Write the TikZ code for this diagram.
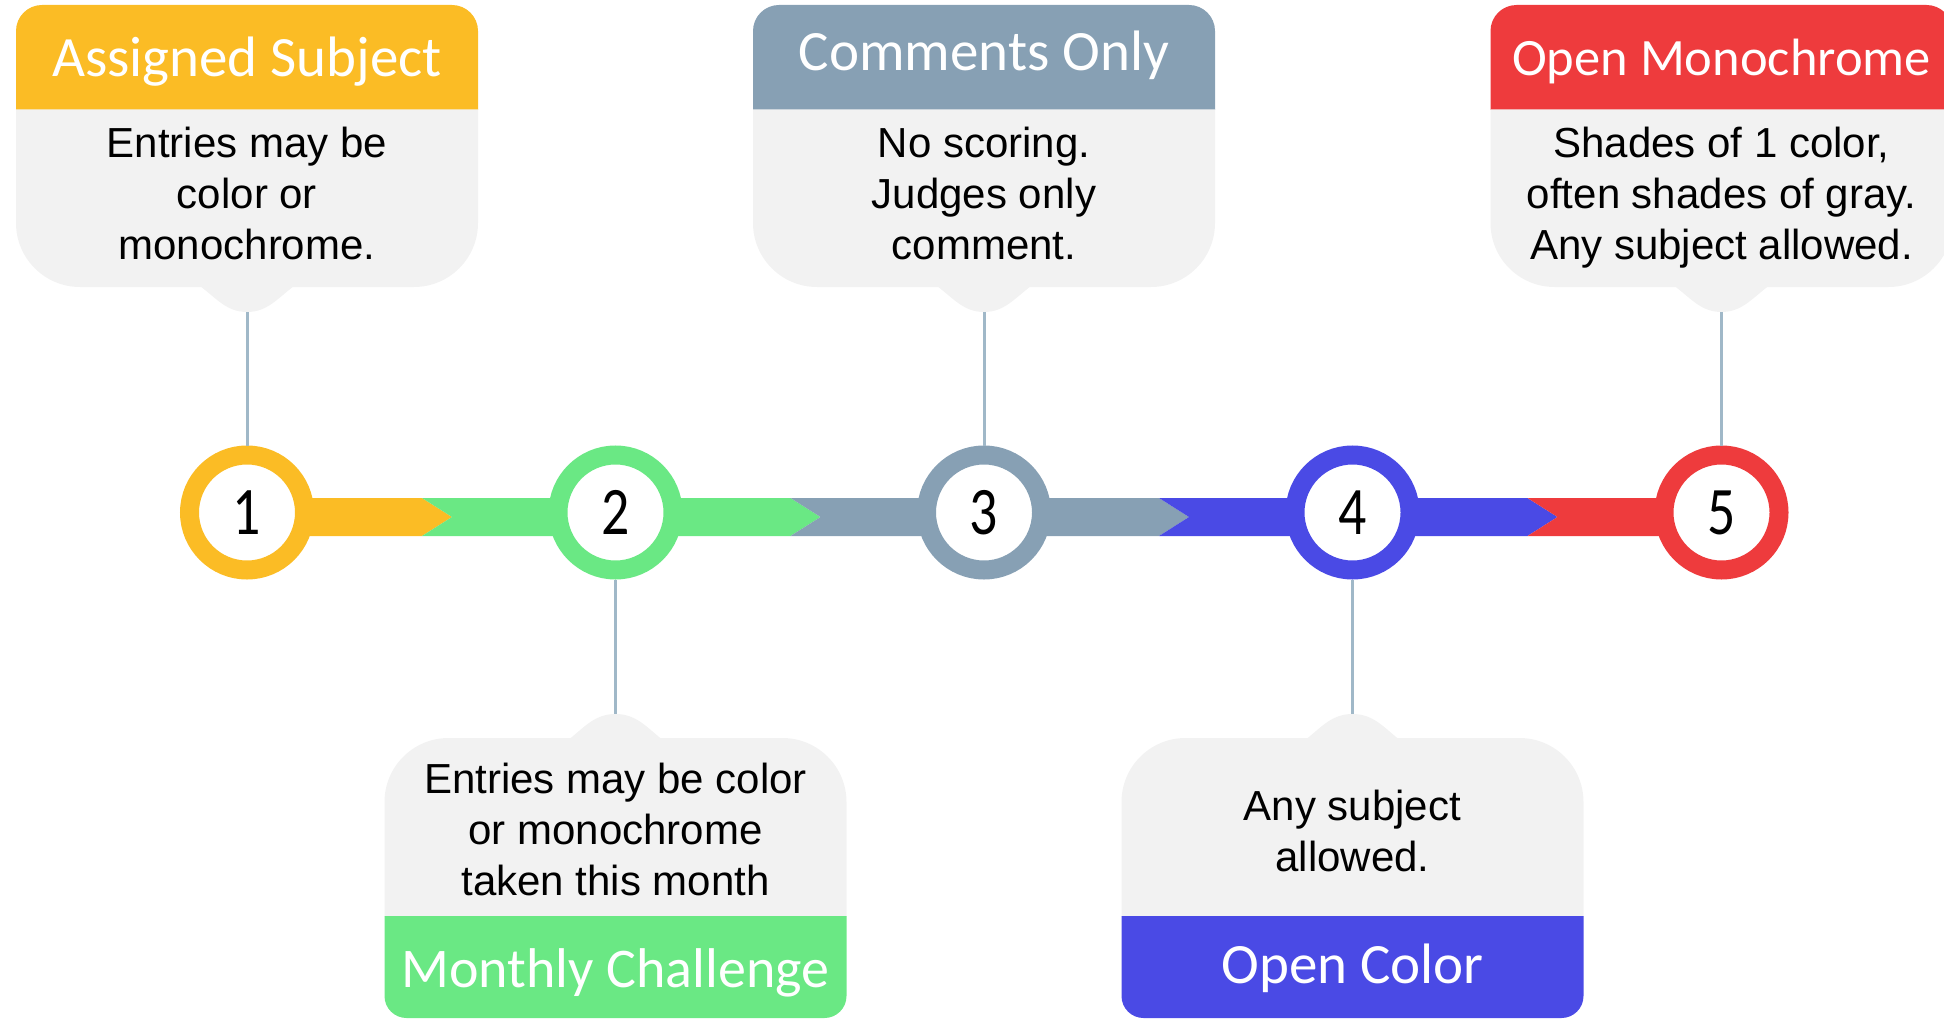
\documentclass[tikz,border=0pt]{standalone}
\usepackage{fontspec}
\usepackage{graphicx}
\setmainfont{Liberation Sans}
\newfontfamily\hdrfont{Carlito}
\newfontfamily\bodyfont{Liberation Sans}
\definecolor{cyel}{HTML}{FBBC25}
\definecolor{cgrn}{HTML}{6AE884}
\definecolor{cgry}{HTML}{87A0B4}
\definecolor{cblu}{HTML}{4A4AE5}
\definecolor{cred}{HTML}{EE3B3D}
\definecolor{bodyc}{HTML}{F2F2F2}
\definecolor{connc}{HTML}{A0B8C8}

% top callout: #1 cx, #2 colour
\newcommand{\TopBox}[2]{%
  \fill[#2] ({#1-231},110) [rounded corners=26]-- ({#1-231},5) -- ({#1+231},5) [sharp corners]-- ({#1+231},110) -- cycle;
  \fill[bodyc] ({#1-231},109.5) [rounded corners=64]-- ({#1-231},287) -- ({#1+231},287) [sharp corners]-- ({#1+231},109.5) -- cycle;
  \fill[bodyc] ({#1-47},286) .. controls ({#1-30},299) and ({#1-20},312) .. (#1,312) .. controls ({#1+20},312) and ({#1+30},299) .. ({#1+47},286) -- cycle;
}
% bottom callout: #1 cx, #2 colour
\newcommand{\BotBox}[2]{%
  \fill[bodyc] ({#1-231},916.5) [rounded corners=64]-- ({#1-231},738) -- ({#1+231},738) [sharp corners]-- ({#1+231},916.5) -- cycle;
  \fill[bodyc] ({#1-46},739) .. controls ({#1-30},726) and ({#1-20},714) .. (#1,714) .. controls ({#1+20},714) and ({#1+30},726) .. ({#1+46},739) -- cycle;
  \fill[#2] ({#1-231},916) [rounded corners=22]-- ({#1-231},1018) -- ({#1+231},1018) [sharp corners]-- ({#1+231},916) -- cycle;
}

\begin{document}
\begin{tikzpicture}[x=1pt,y=-1pt,
  hdr/.style={font=\hdrfont\fontsize{57}{68}\selectfont, text=white, inner sep=0pt, anchor=base},
  bodytxt/.style={font=\bodyfont\fontsize{42}{51}\selectfont, align=center, inner sep=0pt, anchor=center, text=black},
  numc/.style={circle, draw=#1, line width=19pt, fill=white, minimum size=115pt, inner sep=0pt,
               font=\hdrfont\fontsize{68}{80}\selectfont, text=black},
  conn/.style={draw=connc, line width=3pt},
  seg/.style={fill=#1}
]
\useasboundingbox (0,0) rectangle (1944,1019);
\clip (0,0) rectangle (1944,1019);

% callout shapes
\TopBox{247}{cyel}
\TopBox{984}{cgry}
\TopBox{1721.5}{cred}
\BotBox{615.5}{cgrn}
\BotBox{1352.5}{cblu}

% timeline bar
\fill[seg=cyel] (247,498) -- (422,498) -- (452,517) -- (422,536) -- (247,536) -- cycle;
\fill[seg=cgrn] (422,498) -- (790.5,498) -- (820.5,517) -- (790.5,536) -- (422,536) -- (452,517) -- cycle;
\fill[seg=cgry] (790.5,498) -- (1159,498) -- (1189,517) -- (1159,536) -- (790.5,536) -- (820.5,517) -- cycle;
\fill[seg=cblu] (1159,498) -- (1527.5,498) -- (1557.5,517) -- (1527.5,536) -- (1159,536) -- (1189,517) -- cycle;
\fill[seg=cred] (1527.5,498) -- (1721.5,498) -- (1721.5,536) -- (1527.5,536) -- (1557.5,517) -- cycle;

% circles
\node[numc=cyel] (n1) at (247,512.5) {\scalebox{0.82}[1]{1}};
\node[numc=cgrn] (n2) at (615.5,512.5) {\scalebox{0.82}[1]{2}};
\node[numc=cgry] (n3) at (984,512.5) {\scalebox{0.82}[1]{3}};
\node[numc=cblu] (n4) at (1352.5,512.5) {\scalebox{0.82}[1]{4}};
\node[numc=cred] (n5) at (1721.5,512.5) {\scalebox{0.82}[1]{5}};

% tab coordinates and connectors
\coordinate (t1) at (247,312);
\coordinate (t3) at (984,312);
\coordinate (t5) at (1721.5,312);
\coordinate (t2) at (615.5,714);
\coordinate (t4) at (1352.5,714);
\draw[conn] (t1) -- (n1.north);
\draw[conn] (t3) -- (n3.north);
\draw[conn] (t5) -- (n5.north);
\draw[conn] (n2.south) -- (t2);
\draw[conn] (n4.south) -- (t4);

% headers
\node[hdr] (h1) at (247,77) {Assigned Subject};
\node[hdr] (h3) at (984,71) {Comments Only};
\node[hdr, font=\hdrfont\fontsize{52.5}{63}\selectfont] (h5) at (1721.5,76) {Open Monochrome};
\node[hdr, font=\hdrfont\fontsize{56}{67}\selectfont] (h2) at (615.5,987) {Monthly Challenge};
\node[hdr] (h4) at (1352.5,983) {Open Color};

% bodies
\node[bodytxt] (b1) at (247,197.8) {\strut Entries may be\\\strut color or\\\strut monochrome.};
\node[bodytxt] (b3) at (984,197.8) {\strut No scoring.\\\strut Judges only\\\strut comment.};
\node[bodytxt] (b5) at (1721.5,197.8) {\strut Shades of 1 color,\\\strut often shades of gray.\\\strut Any subject allowed.};
\node[bodytxt] (b2) at (615.5,833.8) {\strut Entries may be color\\\strut or monochrome\\\strut taken this month};
\node[bodytxt] (b4) at (1352.5,835.3) {\strut Any subject\\\strut allowed.};
\end{tikzpicture}
\end{document}
